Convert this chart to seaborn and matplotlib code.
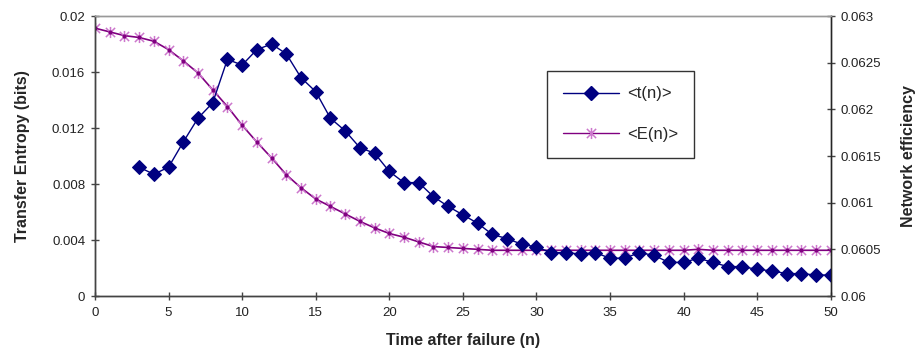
import numpy as np
import pandas as pd
import seaborn as sns
import matplotlib.pyplot as plt
from matplotlib.path import Path
from matplotlib.lines import Line2D

# time steps
n_t = list(range(3, 51))
n_e = list(range(0, 51))

# <t(n)> transfer entropy (bits)
t_vals = [0.0092, 0.0087, 0.0092, 0.0110, 0.0127, 0.0138, 0.0169, 0.0165, 0.0176, 0.0180,
          0.0173, 0.0156, 0.0146, 0.0127, 0.0118, 0.0106, 0.0102, 0.0089, 0.0081, 0.0081,
          0.0071, 0.0064, 0.0058, 0.0052, 0.0044, 0.0041, 0.0037, 0.0035, 0.0031, 0.0031,
          0.0030, 0.0031, 0.0027, 0.0027, 0.0031, 0.0029, 0.0024, 0.0024, 0.0027, 0.0024,
          0.0021, 0.0021, 0.0019, 0.0018, 0.0016, 0.0016, 0.0015, 0.0015]

# <E(n)> network efficiency
e_vals = [0.06287, 0.06283, 0.06279, 0.06277, 0.06273, 0.06264, 0.06252, 0.06239, 0.06221, 0.06203,
          0.06183, 0.06165, 0.06148, 0.06130, 0.06116, 0.06104, 0.06096, 0.06088, 0.06080, 0.06073,
          0.06067, 0.06063, 0.06058, 0.06053, 0.06052, 0.06051, 0.06050, 0.06049, 0.06049, 0.06049,
          0.06049, 0.06049, 0.06049, 0.06049, 0.06049, 0.06049, 0.06049, 0.06049, 0.06049, 0.06049,
          0.06049, 0.06050, 0.06049, 0.06049, 0.06049, 0.06049, 0.06049, 0.06049, 0.06049, 0.06049,
          0.06049]

df_t = pd.DataFrame({'n': n_t, 't': t_vals})
df_e = pd.DataFrame({'n': n_e, 'E': e_vals})

sns.set_style('white')
plt.rcParams['font.family'] = ['Liberation Sans', 'DejaVu Sans']

# excel style star: an x with a vertical bar through it
star = Path([(-1, -1), (1, 1), (-1, 1), (1, -1), (0, -1.2), (0, 1.2)],
            [Path.MOVETO, Path.LINETO, Path.MOVETO, Path.LINETO, Path.MOVETO, Path.LINETO])

navy = '#000080'
purple = '#800080'
pink = '#cc77cc'

fig = plt.figure(figsize=(9.22, 3.56), dpi=100)
ax = fig.add_axes([0.103, 0.1685, 0.798, 0.7865])
ax2 = ax.twinx()

sns.lineplot(data=df_e, x='n', y='E', ax=ax2, color=purple, linewidth=1.2,
             marker=star, markersize=8, markeredgecolor=pink, markeredgewidth=1.1,
             markerfacecolor='none')
# darker centre dot of each star
ax2.plot(n_e, e_vals, linestyle='none', marker='o', markersize=2, color=purple)
sns.lineplot(data=df_t, x='n', y='t', ax=ax, color=navy, linewidth=1,
             marker='D', markersize=7, markeredgecolor=navy, markerfacecolor=navy)
ax.set_zorder(ax2.get_zorder() + 1)
ax.patch.set_visible(False)

ax.set_xlim(0, 50)
ax.set_ylim(0, 0.02)
ax2.set_ylim(0.06, 0.063)
ax.set_xticks(np.arange(0, 51, 5))
ax.set_yticks([0, 0.004, 0.008, 0.012, 0.016, 0.02])
ax.set_yticklabels(['0', '0.004', '0.008', '0.012', '0.016', '0.02'])
ax2.set_yticks([0.06, 0.0605, 0.061, 0.0615, 0.062, 0.0625, 0.063])
ax2.set_yticklabels(['0.06', '0.0605', '0.061', '0.0615', '0.062', '0.0625', '0.063'])

for a in (ax, ax2):
    a.tick_params(direction='inout', length=6, width=1, labelsize=9.5, color='#444444',
                  labelcolor='#222222', pad=4)
    for s in a.spines.values():
        s.set_linewidth(1)
ax.tick_params(axis='x', pad=5)
ax.spines['left'].set_color('#444444')
ax.spines['bottom'].set_color('#444444')
ax2.spines['right'].set_color('#444444')
ax.spines['top'].set_color('#999999')
ax2.spines['top'].set_color('#999999')
ax.tick_params(axis='y', left=True)
ax2.tick_params(axis='y', right=True)
ax.tick_params(axis='x', bottom=True)

ax.set_xlabel('Time after failure (n)', fontsize=11.5, fontweight='bold', labelpad=10)
ax.set_ylabel('Transfer Entropy (bits)', fontsize=11.5, fontweight='bold', labelpad=16)
ax2.set_ylabel('Network efficiency', fontsize=11.5, fontweight='bold', labelpad=14)

handles = [Line2D([], [], color=navy, linewidth=1, marker='D', markersize=7,
                  markerfacecolor=navy, markeredgecolor=navy),
           Line2D([], [], color=purple, linewidth=1, marker=star, markersize=8,
                  markeredgecolor=pink, markeredgewidth=1.1)]
leg = ax.legend(handles, ['<t(n)>', '<E(n)>'], loc='upper left',
                bbox_to_anchor=(0.614, 0.805), frameon=True, fancybox=False,
                edgecolor='black', fontsize=12, labelspacing=1.55, handlelength=3.4,
                borderpad=0.95, handletextpad=0.45, borderaxespad=0)
leg.get_frame().set_linewidth(1)

fig.savefig('out.png', dpi=100)
